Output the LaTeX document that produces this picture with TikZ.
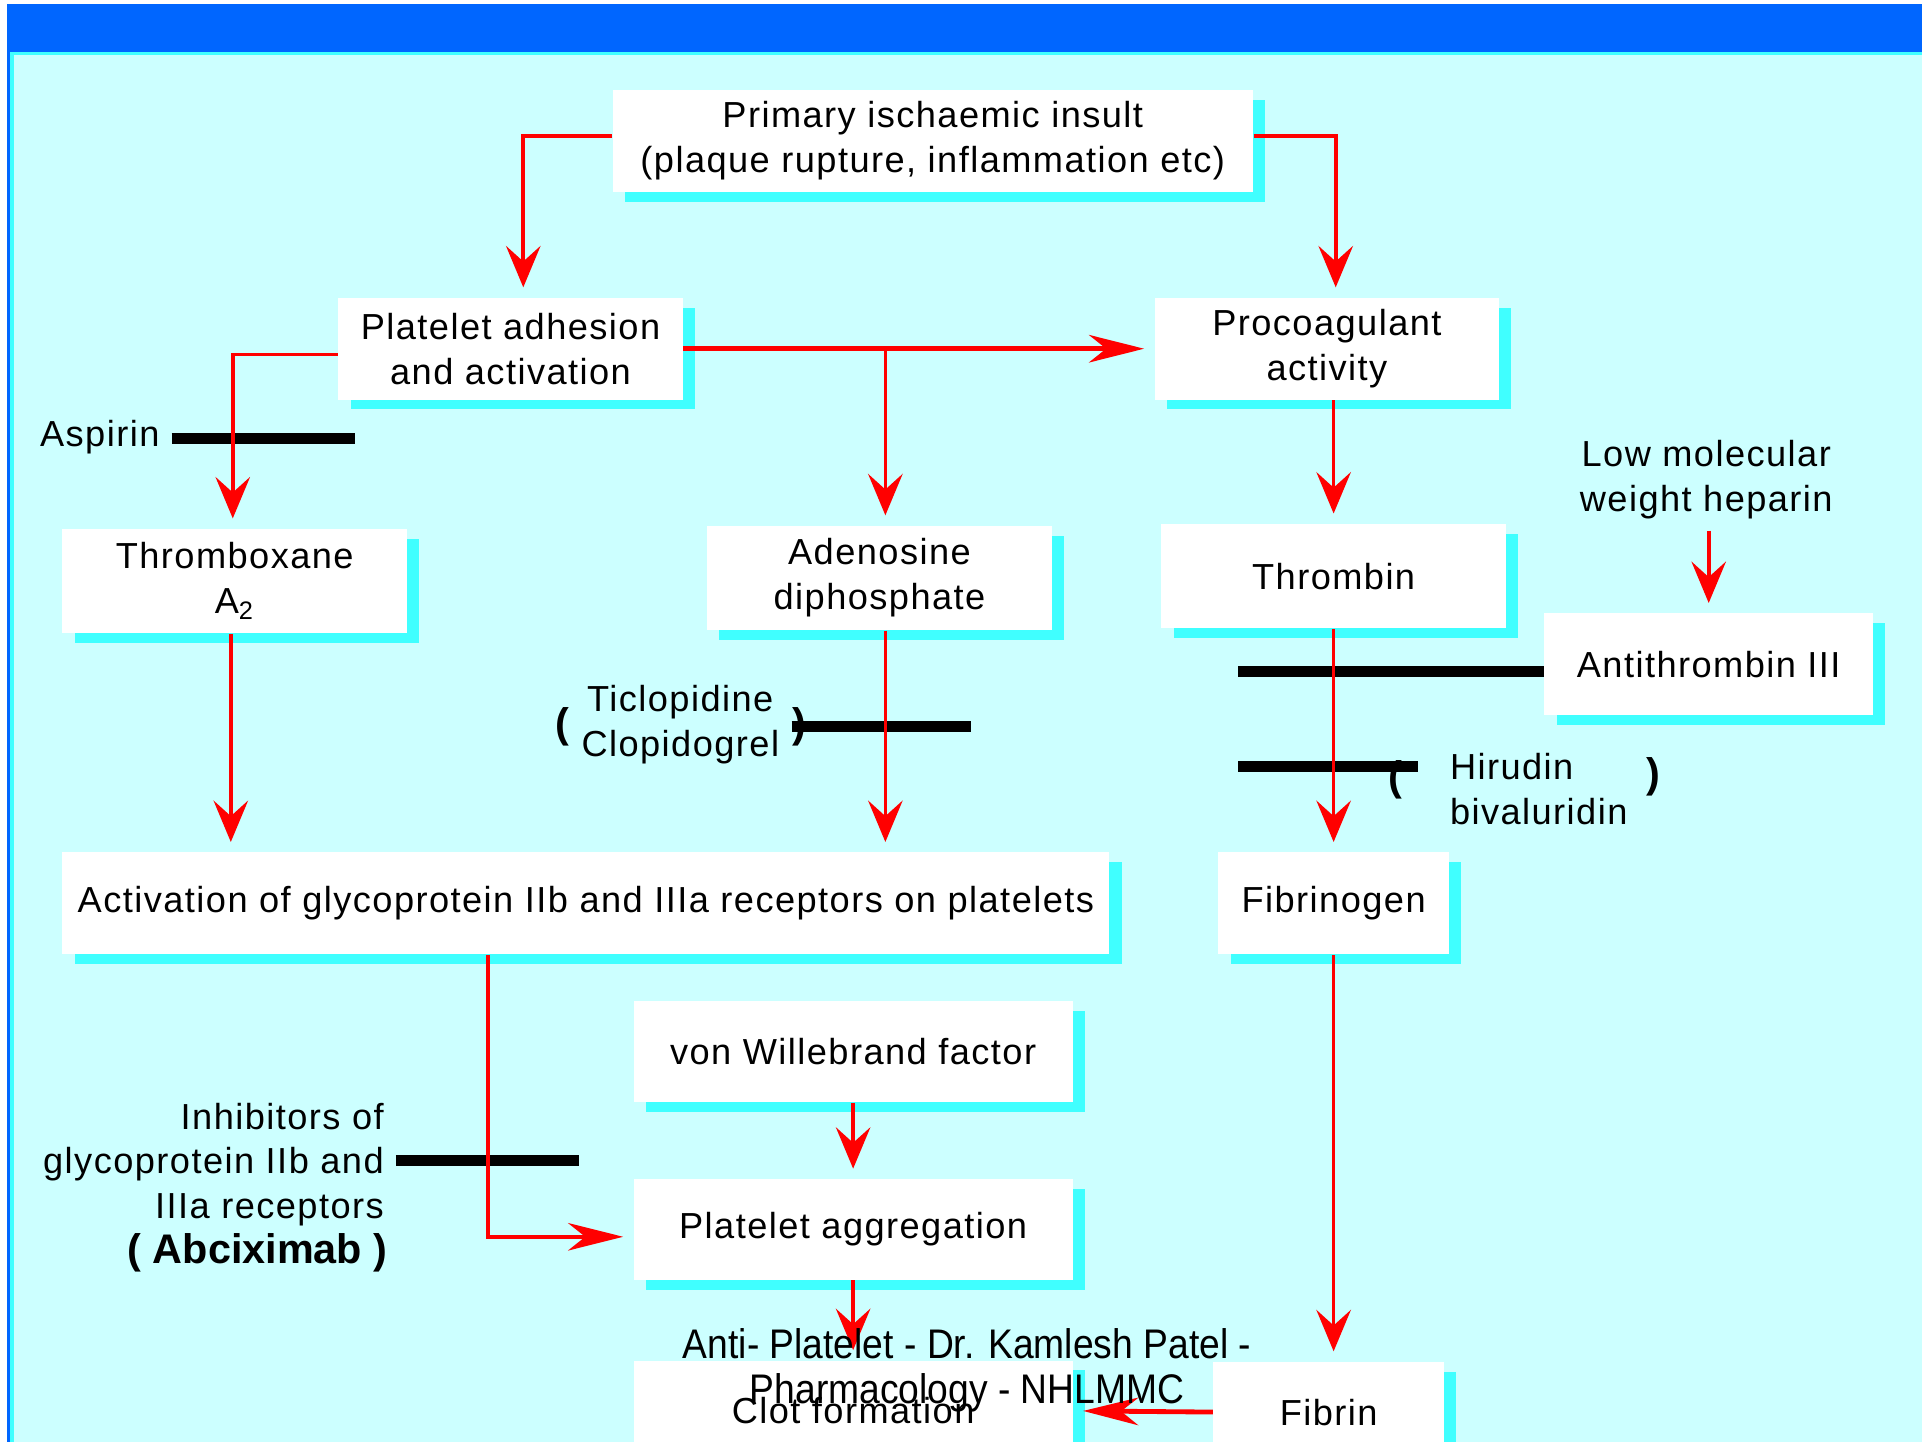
\documentclass[tikz,border=0pt]{standalone}
\usepackage{fontspec}
\setmainfont{Liberation Sans}[LetterSpace=4]
\newfontfamily\markfont{Liberation Sans}[FakeStretch=0.9]
\newfontfamily\plainfont{Liberation Sans}
\usetikzlibrary{arrows.meta,positioning,shadows}
\definecolor{slidebg}{HTML}{CCFFFF}
\definecolor{slidebar}{HTML}{0066FF}
\definecolor{boxshade}{HTML}{40FFFF}
\definecolor{flowred}{HTML}{FF0000}

\begin{document}
\begin{tikzpicture}[
  x=0.0125cm, y=-0.0125cm,
  font=\fontsize{10.5}{13}\selectfont,
  box/.style={rectangle, fill=white, inner sep=2pt, align=center,
    general shadow={fill=boxshade, shadow xshift=0.125cm, shadow yshift=-0.1cm}},
  wide/.style={box, minimum width=3.5125cm, minimum height=1.0375cm},
  edge/.style={draw=flowred, line width=1.05pt, -{Stealth[length=12pt, width=10pt, inset=4.5pt]}, shorten >=0.1cm},
  bigedge/.style={draw=flowred, line width=1.05pt, -{Stealth[length=16pt, width=8pt, inset=5pt]}, shorten >=0.1cm},
  block/.style={line width=3.2pt, black},
  paren/.style={font=\plainfont\bfseries\fontsize{12}{12}\selectfont, inner sep=0pt}
]
% slide background
\fill[white] (0,0) rectangle (1568,1180);
\fill[slidebar] (5.7,3.3) rectangle (1568,1176.4);
\fill[boxshade] (8.2,42.4) rectangle (1568,1176.4);
\fill[slidebg] (11.4,44.6) rectangle (1568,1176.4);
\useasboundingbox (0,0) rectangle (1568,1180);
\clip (0,0) rectangle (1568,1176.4);

% boxes
\node[box, minimum width=6.525cm, minimum height=1.0375cm] (insult) at (761,115) {Primary ischaemic insult\\(plaque rupture, inflammation etc)};
\node[wide] (adhesion) at (416.5,284.5) {Platelet adhesion\\and activation};
\node[wide] (procoag) at (1082.5,284.5) {Procoagulant\\activity};
\node[wide, minimum height=1.0625cm] (thromboxane) at (191.5,474) {Thromboxane\\A\textsubscript{2}};
\node[wide, minimum height=1.0625cm] (adp) at (717.5,471.5) {Adenosine\\diphosphate};
\node[wide, minimum height=1.0625cm] (thrombin) at (1088,470) {Thrombin};
\node[box, minimum width=3.35cm, minimum height=1.0375cm] (antithrombin) at (1394,542) {Antithrombin III};
\node[box, minimum width=10.675cm, minimum height=1.0375cm] (gpactive) at (478,737) {Activation of glycoprotein IIb and IIIa receptors on platelets};
\node[box, minimum width=2.35cm, minimum height=1.0375cm] (fibrinogen) at (1088,737) {Fibrinogen};
\node[box, minimum width=4.475cm, minimum height=1.025cm] (vwf) at (696,858) {von Willebrand factor};
\node[box, minimum width=4.475cm, minimum height=1.025cm] (aggregation) at (696,1003) {Platelet aggregation};
\node[box, minimum width=4.475cm, minimum height=1.025cm] (clot) at (696,1151) {Clot formation};
\node[box, minimum width=2.35cm, minimum height=1.025cm] (fibrin) at (1084,1152) {Fibrin};

% drug labels
\node[anchor=east] (aspirin) at (140,357) {Aspirin};
\node[align=center] (lmwh) at (1392,391) {Low molecular\\weight heparin};
\node[align=center] (ticlo) at (555,591) {Ticlopidine\\Clopidogrel};
\node[paren] (ticloL) at (459,593) {(};
\node[paren] (ticloR) at (652,593) {)};
\node[align=left, anchor=west] (hirudin) at (1173,644) {Hirudin\\bivaluridin};
\node[paren] (hirudinL) at (1138,636) {(};
\node[paren] (hirudinR) at (1349,634) {)};
\node[align=right, anchor=east] (gpinhib) at (323,950) {Inhibitors of\\glycoprotein IIb and\\IIIa receptors};
\node[anchor=east, font=\plainfont\bfseries\fontsize{12}{14}\selectfont] (abcix) at (326,1022) {( Abciximab )};

% inhibition bars
\coordinate (aspirinEnd) at (290,358);
\coordinate (ticloEnd) at (792,593);
\coordinate (atEnd) at (1010,548);
\coordinate (hirA) at (1010,625);
\coordinate (hirB) at (1157,625);
\coordinate (gpEnd) at (472,947);
\draw[block] (aspirin.east |- aspirinEnd) -- (aspirinEnd);
\draw[block] (ticloR.west) -- (ticloEnd);
\draw[block] (antithrombin.west |- atEnd) -- (atEnd);
\draw[block] (hirA) -- (hirB);
\draw[block] (gpinhib.east |- gpEnd) -- (gpEnd);

% arrows
\draw[edge] ([yshift=0.05cm]insult.west) -| ([xshift=0.13cm]adhesion.north);
\draw[edge] ([yshift=0.05cm]insult.east) -| ([xshift=0.09cm]procoag.north);
\draw[edge] ([yshift=-0.06cm]adhesion.west) -| ([xshift=-0.02cm]thromboxane.north);
\draw[bigedge, line width=1.4pt] (adhesion.east) -- (procoag.west);
\draw[edge] ([xshift=0.06cm]adhesion.east -| adp.north) -- ([xshift=0.06cm]adp.north);
\draw[edge] (procoag.south -| thrombin.north) -- (thrombin.north);
\draw[edge] ([xshift=-0.04cm]thromboxane.south) -- ([xshift=-0.04cm]thromboxane.south |- gpactive.north);
\draw[edge] ([xshift=0.06cm]adp.south) -- ([xshift=0.06cm]adp.south |- gpactive.north);
\draw[edge] (thrombin.south) -- (fibrinogen.north);
\draw[edge] (lmwh.south -| antithrombin.north) -- (antithrombin.north);
\draw[bigedge] ([xshift=-1cm]gpactive.south) |- ([yshift=-0.075cm]aggregation.west);
\draw[edge] (vwf.south) -- (aggregation.north);
\draw[edge] (aggregation.south) -- (clot.north);
\draw[edge] (fibrinogen.south) -- (fibrinogen.south |- fibrin.north);
\draw[bigedge, line width=1.4pt] (fibrin.west) -- (clot.east);

% footer
\node[align=center, font=\markfont\fontsize{12}{13}\selectfont] (credit) at (789,1118) {Anti- Platelet - Dr. Kamlesh Patel -\\Pharmacology - NHLMMC};
\end{tikzpicture}
\end{document}
